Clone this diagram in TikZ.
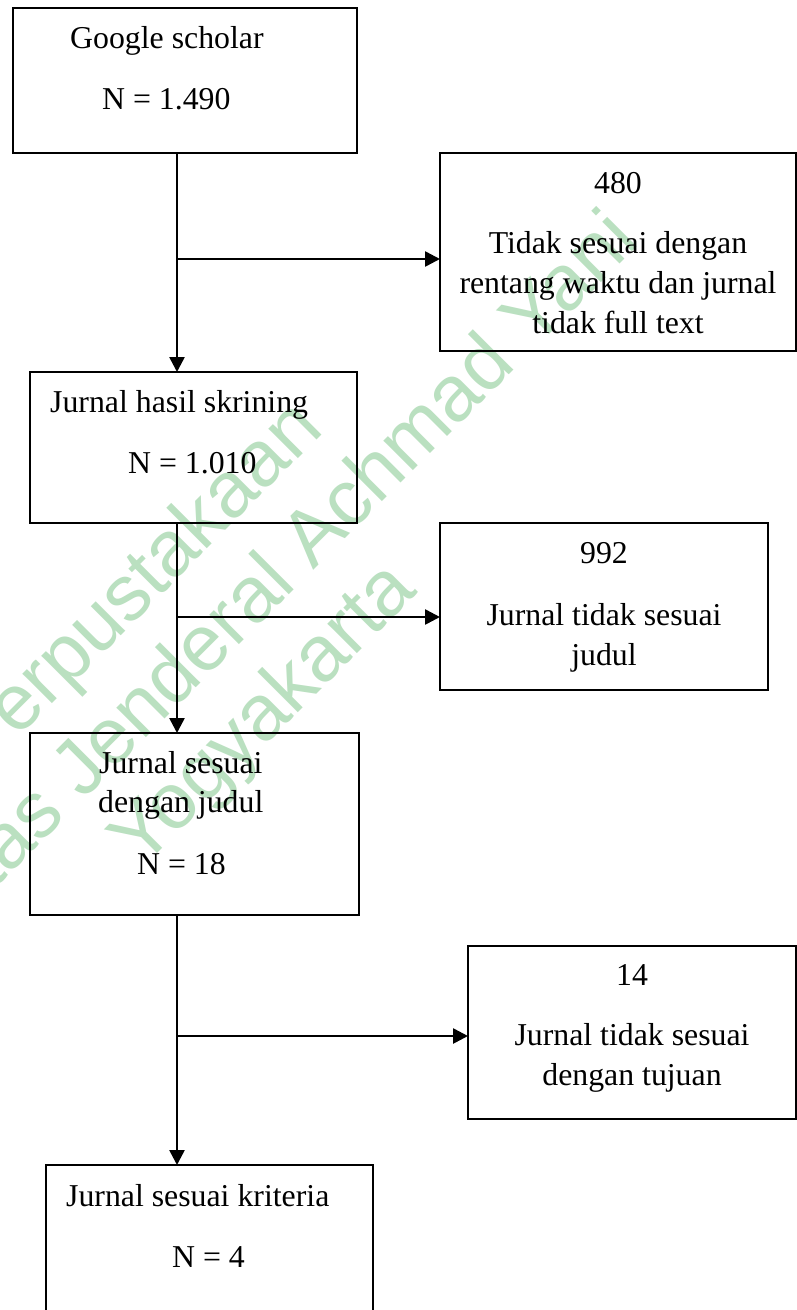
\documentclass[tikz,border=0pt]{standalone}
\usepackage{fontspec}
\setmainfont{Liberation Serif}
\newfontfamily\wmfont{Liberation Sans}
\usetikzlibrary{arrows.meta}
\definecolor{wmgreen}{RGB}{186,224,192}
\tikzset{
  box/.style={draw=black, line width=2pt, rectangle, inner sep=0pt, outer sep=0pt, anchor=north west},
  conn/.style={draw=black, line width=2.6pt},
  arr/.style={conn, -{Triangle[length=15pt,width=15pt]}},
  lt/.style={inner sep=0pt, anchor=base west, font=\fontsize{31.8}{40}\selectfont},
  ct/.style={inner sep=0pt, anchor=base, font=\fontsize{31.8}{40}\selectfont},
  wm/.style={inner sep=0pt, text=wmgreen, align=center, rotate=45,
    font=\wmfont\fontsize{79}{90}\selectfont}
}
\begin{document}
\begin{tikzpicture}[x=1pt,y=-1pt]
\useasboundingbox (0,0) rectangle (797,1310);
\fill[white] (0,0) rectangle (797,1310);
% watermark
\node[wm] (watermark) at (202,653) {Perpustakaan\\Universitas Jenderal Achmad Yani\\Yogyakarta};
% boxes
\node[box, minimum width=344pt, minimum height=145pt] (b1) at (13,8) {};
\node[box, minimum width=356pt, minimum height=198pt] (r1) at (440,153) {};
\node[box, minimum width=327pt, minimum height=151pt] (b2) at (30,372) {};
\node[box, minimum width=328pt, minimum height=167pt] (r2) at (440,523) {};
\node[box, minimum width=329pt, minimum height=182pt] (b3) at (30,733) {};
\node[box, minimum width=328pt, minimum height=173pt] (r3) at (468,946) {};
\node[box, minimum width=327pt, minimum height=150pt] (b4) at (46,1165) {};
% texts
\node[lt] (t1a) at (70,48) {Google scholar};
\node[lt] (t1b) at (102,109) {N = 1.490};
\node[ct] (r1a) at (618,193) {480};
\node[ct] (r1b) at (618,253) {Tidak sesuai dengan};
\node[ct] (r1c) at (618,293) {rentang waktu dan jurnal};
\node[ct] (r1d) at (618,333) {tidak full text};
\node[lt] (t2a) at (50,412) {Jurnal hasil skrining};
\node[lt] (t2b) at (128,473) {N = 1.010};
\node[ct] (r2a) at (604,563) {992};
\node[ct] (r2b) at (604,625) {Jurnal tidak sesuai};
\node[ct] (r2c) at (604,665) {judul};
\node[lt] (t3a) at (99,773) {Jurnal sesuai};
\node[lt] (t3b) at (98,812) {dengan judul};
\node[lt] (t3c) at (137,874) {N = 18};
\node[ct] (r3a) at (632,985) {14};
\node[ct] (r3b) at (632,1045) {Jurnal tidak sesuai};
\node[ct] (r3c) at (632,1085) {dengan tujuan};
\node[lt] (t4a) at (66,1206) {Jurnal sesuai kriteria};
\node[lt] (t4b) at (172,1267) {N = 4};
% connectors
\coordinate (spine) at (177,0);
\coordinate (j1) at (177,259);
\coordinate (j2) at (177,617);
\coordinate (j3) at (177,1036);
\draw[arr] (spine |- b1.south) -- (spine |- b2.north);
\draw[arr] (spine |- b2.south) -- (spine |- b3.north);
\draw[arr] (spine |- b3.south) -- (spine |- b4.north);
\draw[arr] (j1) -- (j1 -| r1.west);
\draw[arr] (j2) -- (j2 -| r2.west);
\draw[arr] (j3) -- (j3 -| r3.west);
\end{tikzpicture}
\end{document}
